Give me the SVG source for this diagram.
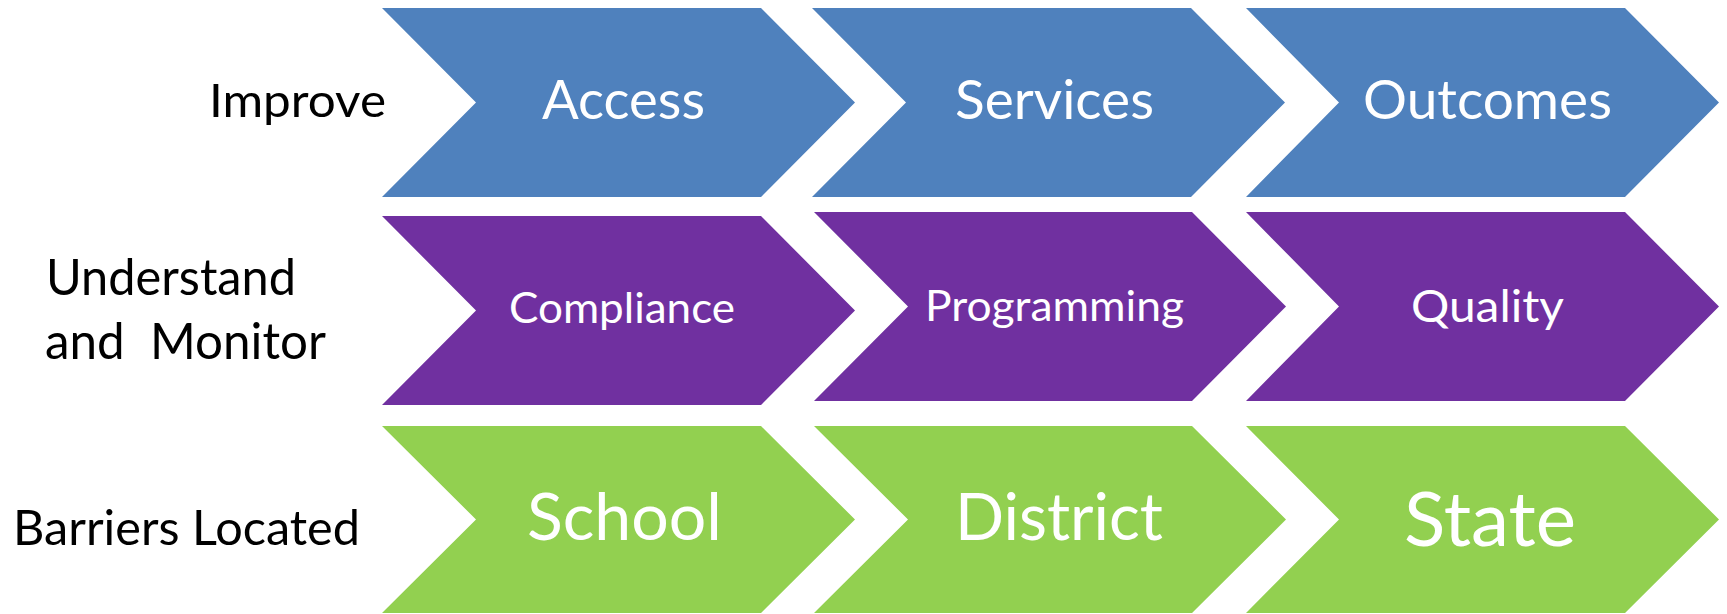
<svg xmlns="http://www.w3.org/2000/svg" width="1727" height="614" viewBox="0 0 1727 614">
<style>
.blue{fill:#4F81BD}
.purple{fill:#7030A0}
.green{fill:#92D050}
text{font-family:Lato,"Open Sans","Liberation Sans",sans-serif}
.lbl{fill:#000000}
.in{fill:#FFFFFF}
</style>
<rect width="1727" height="614" fill="#FFFFFF"/>
<g id="row-labels">
<text class="lbl" x="209" y="117" font-size="47" textLength="177" lengthAdjust="spacingAndGlyphs">Improve</text>
<text class="lbl" x="46" y="295" font-size="50" textLength="250" lengthAdjust="spacingAndGlyphs">Understand</text>
<text class="lbl" x="45" y="359" font-size="50" textLength="281" lengthAdjust="spacingAndGlyphs" xml:space="preserve">and  Monitor</text>
<text class="lbl" x="13" y="545" font-size="48" textLength="347" lengthAdjust="spacingAndGlyphs">Barriers Located</text>
</g>
<g id="node-access">
<path class="blue" d="M382,8 L761,8 L855,102.5 L761,197 L382,197 L476,102.5 Z"/>
<text class="in" x="542" y="119" font-size="54" textLength="163" lengthAdjust="spacingAndGlyphs">Access</text>
</g>
<g id="node-services">
<path class="blue" d="M812,8 L1191,8 L1285,102.5 L1191,197 L812,197 L906,102.5 Z"/>
<text class="in" x="955" y="119" font-size="54" textLength="199" lengthAdjust="spacingAndGlyphs">Services</text>
</g>
<g id="node-outcomes">
<path class="blue" d="M1246,8 L1625,8 L1719,102.5 L1625,197 L1246,197 L1339,102.5 Z"/>
<text class="in" x="1363" y="119" font-size="54" textLength="249" lengthAdjust="spacingAndGlyphs">Outcomes</text>
</g>
<g id="node-compliance">
<path class="purple" d="M382,216 L761,216 L855,310.5 L761,405 L382,405 L476,310.5 Z"/>
<text class="in" x="509" y="323" font-size="43" textLength="226" lengthAdjust="spacingAndGlyphs">Compliance</text>
</g>
<g id="node-programming">
<path class="purple" d="M814,212 L1192,212 L1286,306.5 L1192,401 L814,401 L908,306.5 Z"/>
<text class="in" x="925" y="321" font-size="43" textLength="259" lengthAdjust="spacingAndGlyphs">Programming</text>
</g>
<g id="node-quality">
<path class="purple" d="M1246,212 L1625,212 L1719,306.5 L1625,401 L1246,401 L1339,306.5 Z"/>
<text class="in" x="1411" y="322" font-size="45" textLength="153" lengthAdjust="spacingAndGlyphs">Quality</text>
</g>
<g id="node-school">
<path class="green" d="M382,426 L761,426 L855,519.5 L761,613 L382,613 L476,519.5 Z"/>
<text class="in" x="527" y="540" font-size="66" textLength="195" lengthAdjust="spacingAndGlyphs">School</text>
</g>
<g id="node-district">
<path class="green" d="M814,426 L1192,426 L1286,519.5 L1192,613 L814,613 L908,519.5 Z"/>
<text class="in" x="955" y="540" font-size="66" textLength="208" lengthAdjust="spacingAndGlyphs">District</text>
</g>
<g id="node-state">
<path class="green" d="M1246,426 L1625,426 L1719,519.5 L1625,613 L1246,613 L1339,519.5 Z"/>
<text class="in" x="1404" y="546" font-size="75" textLength="172" lengthAdjust="spacingAndGlyphs">State</text>
</g>
<g id="connectors"/>
</svg>
